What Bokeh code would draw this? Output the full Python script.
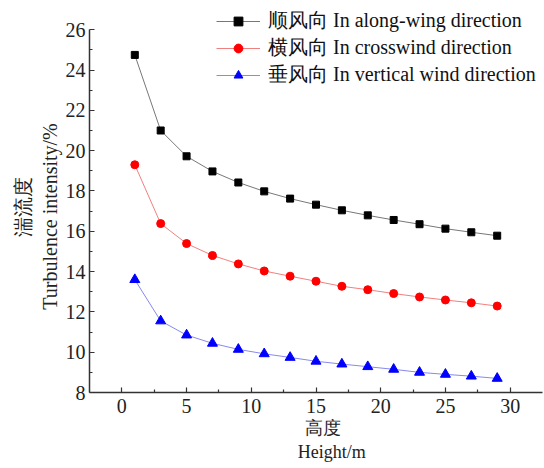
from bokeh.plotting import figure
from bokeh.models import Legend, LegendItem, FixedTicker, Range1d
from bokeh.embed import file_html
from bokeh.resources import INLINE

heights = [1, 3, 5, 7, 9, 11, 13, 15, 17, 19, 21, 23, 25, 27, 29]
along = [24.75, 21.0, 19.72, 18.97, 18.42, 17.98, 17.62, 17.32, 17.04, 16.79, 16.56, 16.35, 16.13, 15.95, 15.78]
cross = [19.3, 16.38, 15.39, 14.8, 14.38, 14.03, 13.77, 13.52, 13.27, 13.1, 12.91, 12.74, 12.59, 12.45, 12.29]
vert = [13.6, 11.55, 10.85, 10.44, 10.14, 9.92, 9.74, 9.55, 9.41, 9.28, 9.15, 9.0, 8.9, 8.81, 8.7]
names = ["顺风向 In along-wing direction", "横风向 In crosswind direction", "垂风向 In vertical wind direction"]
x_ticks = [0, 5, 10, 15, 20, 25, 30]
y_ticks = [8, 10, 12, 14, 16, 18, 20, 22, 24, 26]
NB = "\u00a0"
x_title = NB * 3 + "高度\n" + NB * 7 + "Height/m"
y_title = "湍流度" + NB * 4 + "\nTurbulence intensity/%" + NB * 8

SERIF = "Liberation Serif"

p = figure(width=544, height=468, x_range=Range1d(-2.5, 32.5), y_range=Range1d(8, 27.45),
           output_backend="svg", toolbar_location=None,
           min_border_left=89, min_border_right=2, min_border_top=0, min_border_bottom=76)
p.outline_line_color = None
p.xgrid.visible = False
p.ygrid.visible = False

series = [
    (along, "#777777", "#000000", "square", 7),
    (cross, "#f08080", "#ff0000", "circle", 8),
    (vert, "#8888ee", "#0000ff", "triangle", 10),
]
items = []
for (vals, lc, mc, mk, sz), nm in zip(series, names):
    r1 = p.line(heights, vals, line_color=lc, line_width=1)
    r2 = p.scatter(heights, vals, marker=mk, size=sz, fill_color=mc, line_color=mc)
    items.append(LegendItem(label=nm, renderers=[r1, r2]))

legend = Legend(items=items, location=(127, 304), border_line_color=None,
                background_fill_alpha=0, label_text_font=SERIF, label_text_font_size="20px",
                label_text_color="#111111", glyph_width=44, glyph_height=22, label_height=22,
                label_standoff=8, spacing=0, padding=2, margin=0)
p.add_layout(legend)

for ax in (p.xaxis[0], p.yaxis[0]):
    ax.axis_line_color = "#333333"
    ax.axis_line_width = 1.5
    ax.major_tick_line_color = "#333333"
    ax.minor_tick_line_color = "#333333"
    ax.major_tick_line_width = 1.2
    ax.minor_tick_line_width = 1.2
    ax.major_tick_in = 5
    ax.major_tick_out = 0
    ax.minor_tick_in = 3
    ax.minor_tick_out = 0
    ax.major_label_text_font = SERIF
    ax.major_label_text_font_size = "20px"
    ax.major_label_text_color = "#222222"
    ax.axis_label_text_font = SERIF
    ax.axis_label_text_font_style = "normal"
    ax.axis_label_text_color = "#222222"

p.xaxis[0].ticker = FixedTicker(ticks=x_ticks, minor_ticks=[2.5, 7.5, 12.5, 17.5, 22.5, 27.5])
p.yaxis[0].ticker = FixedTicker(ticks=y_ticks, minor_ticks=[9, 11, 13, 15, 17, 19, 21, 23, 25])
p.yaxis[0].bounds = (8, 26)
p.xaxis[0].major_label_standoff = 6
p.yaxis[0].major_label_standoff = 4
p.xaxis[0].axis_label = x_title
p.yaxis[0].axis_label = y_title
p.xaxis[0].axis_label_text_font_size = "18px"
p.yaxis[0].axis_label_text_font_size = "20px"
p.xaxis[0].axis_label_standoff = 2
p.yaxis[0].axis_label_standoff = 2

open("out.html", "w").write(file_html(p, INLINE))
